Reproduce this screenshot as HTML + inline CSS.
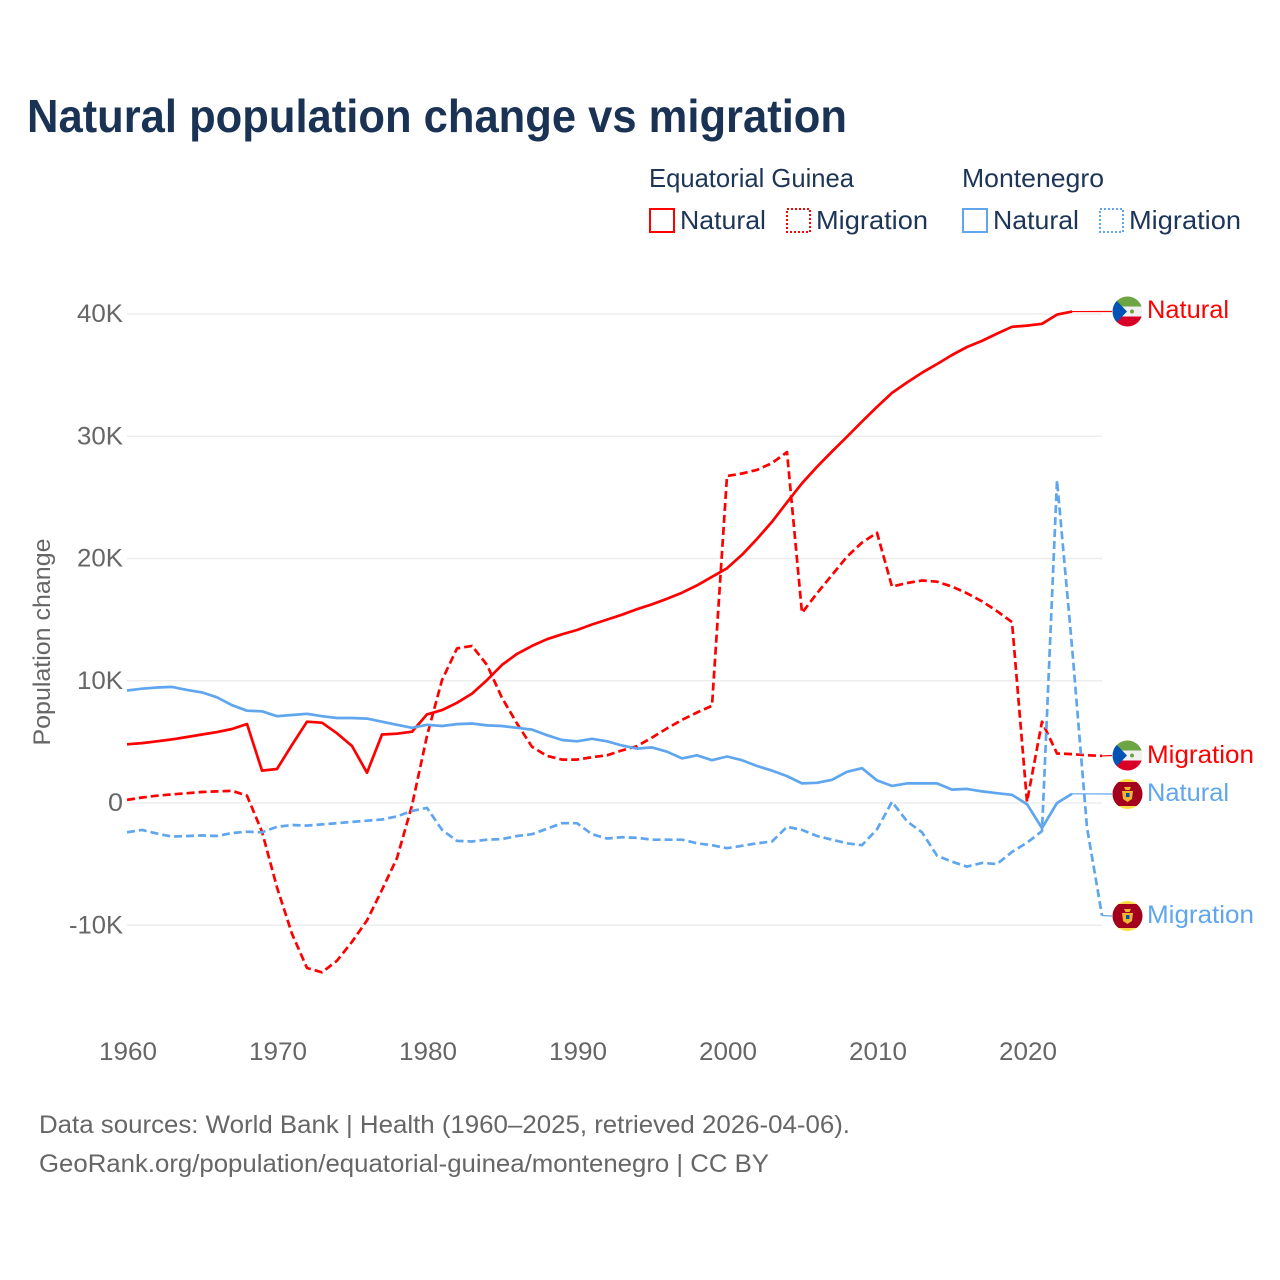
<!DOCTYPE html>
<html lang="en">
<head>
<meta charset="utf-8">
<title>Natural population change vs migration</title>
<style>
html,body{margin:0;padding:0;background:#fff;}
svg{display:block;font-family:"Liberation Sans",sans-serif;}
</style>
</head>
<body>
<svg id="chart" width="1280" height="1280" viewBox="0 0 1280 1280" xmlns="http://www.w3.org/2000/svg">
<defs>
<clipPath id="c1"><circle cx="1127.5" cy="311.5" r="15"/></clipPath>
<clipPath id="c2"><circle cx="1127.5" cy="755.5" r="15"/></clipPath>
<clipPath id="c3"><circle cx="1127.5" cy="794" r="15"/></clipPath>
<clipPath id="c4"><circle cx="1127.5" cy="916" r="15"/></clipPath>
</defs>
<rect width="1280" height="1280" fill="#fff"/>
<text x="27" y="132" font-size="46" font-weight="700" fill="#1a3354" textLength="820" lengthAdjust="spacingAndGlyphs">Natural population change vs migration</text>

<g font-size="26" fill="#1d3557">
<text x="649" y="187" textLength="205" lengthAdjust="spacingAndGlyphs">Equatorial Guinea</text>
<text x="962" y="187" textLength="142" lengthAdjust="spacingAndGlyphs">Montenegro</text>
<rect x="650" y="209" width="24" height="23" fill="none" stroke="#f00" stroke-width="2"/>
<text x="680" y="229" textLength="86" lengthAdjust="spacingAndGlyphs">Natural</text>
<rect x="787" y="209" width="23" height="23" fill="none" stroke="#f00" stroke-width="2" stroke-dasharray="2,2"/>
<text x="816" y="229" textLength="112" lengthAdjust="spacingAndGlyphs">Migration</text>
<rect x="963" y="209" width="24" height="23" fill="none" stroke="#5fa6ee" stroke-width="2"/>
<text x="993" y="229" textLength="86" lengthAdjust="spacingAndGlyphs">Natural</text>
<rect x="1100" y="209" width="23" height="23" fill="none" stroke="#5fa6ee" stroke-width="2" stroke-dasharray="2,2"/>
<text x="1129" y="229" textLength="112" lengthAdjust="spacingAndGlyphs">Migration</text>
</g>

<text transform="translate(50,642) rotate(-90)" text-anchor="middle" font-size="24" fill="#666" textLength="207" lengthAdjust="spacingAndGlyphs">Population change</text>

<g id="grid"></g>
<g id="yticks" font-size="25" fill="#666"></g>
<g id="xticks" font-size="25" fill="#666"></g>
<g id="series" fill="none"></g>

<g clip-path="url(#c1)">
<rect x="1112" y="296" width="31" height="10.5" fill="#6da544"/><rect x="1112" y="306.5" width="31" height="10" fill="#f0f0f0"/><rect x="1112" y="316.5" width="31" height="10.5" fill="#d80027"/>
<path d="M1112 296L1127 311.5L1112 327Z" fill="#0052b4"/><circle cx="1132" cy="311.5" r="2" fill="#6da544"/>
</g>
<g clip-path="url(#c2)">
<rect x="1112" y="740" width="31" height="10.5" fill="#6da544"/><rect x="1112" y="750.5" width="31" height="10" fill="#f0f0f0"/><rect x="1112" y="760.5" width="31" height="10.5" fill="#d80027"/>
<path d="M1112 740L1127 755.5L1112 771Z" fill="#0052b4"/><circle cx="1132" cy="755.5" r="2" fill="#6da544"/>
</g>
<g clip-path="url(#c3)">
<rect x="1112" y="778" width="31" height="32" fill="#ffda44"/><rect x="1112" y="782" width="31" height="24" fill="#a2001d"/>
<path d="M1124 787h7l-1.500 3h-4zM1122 791h11l-1 8-4.500 3-4.500-3z" fill="#eeb62f"/><rect x="1126" y="793" width="3.500" height="4" fill="#0052b4"/>
</g>
<g clip-path="url(#c4)">
<rect x="1112" y="900" width="31" height="32" fill="#ffda44"/><rect x="1112" y="904" width="31" height="24" fill="#a2001d"/>
<path d="M1124 909h7l-1.500 3h-4zM1122 913h11l-1 8-4.500 3-4.500-3z" fill="#eeb62f"/><rect x="1126" y="915" width="3.500" height="4" fill="#0052b4"/>
</g>

<g font-size="25">
<text x="1147" y="318" fill="#f00" textLength="82" lengthAdjust="spacingAndGlyphs">Natural</text>
<text x="1147" y="763" fill="#f00" textLength="107" lengthAdjust="spacingAndGlyphs">Migration</text>
<text x="1147" y="801" fill="#5fa6ee" textLength="82" lengthAdjust="spacingAndGlyphs">Natural</text>
<text x="1147" y="923" fill="#5fa6ee" textLength="107" lengthAdjust="spacingAndGlyphs">Migration</text>
</g>

<g font-size="25" fill="#666">
<text x="39" y="1133" textLength="811" lengthAdjust="spacingAndGlyphs">Data sources: World Bank | Health (1960–2025, retrieved 2026-04-06).</text>
<text x="39" y="1172" textLength="730" lengthAdjust="spacingAndGlyphs">GeoRank.org/population/equatorial-guinea/montenegro | CC BY</text>
</g>
</svg>
<script>
const startYear = 1960;
const xTickYears = [1960, 1970, 1980, 1990, 2000, 2010, 2020];
const yTickValues = [-10, 0, 10, 20, 30, 40];
const yTickLabels = ['-10K', '0', '10K', '20K', '30K', '40K'];

const egNatural = [4.8,4.9,5.05,5.2,5.4,5.6,5.8,6.05,6.46,2.65,2.78,4.75,6.65,6.57,5.7,4.66,2.48,5.6,5.67,5.83,7.25,7.6,8.2,8.95,10.05,11.3,12.2,12.85,13.4,13.8,14.15,14.6,15.0,15.4,15.85,16.25,16.7,17.2,17.8,18.5,19.2,20.3,21.6,23.0,24.6,26.15,27.5,28.75,29.96,31.2,32.4,33.55,34.4,35.2,35.9,36.65,37.3,37.8,38.4,38.95,39.05,39.2,39.95,40.2];
const egMigration = [0.25,0.45,0.6,0.7,0.8,0.9,0.95,1.0,0.6,-2.35,-6.9,-10.7,-13.5,-13.85,-12.9,-11.35,-9.6,-7.1,-4.5,-0.2,5.5,10.05,12.65,12.85,11.3,8.6,6.5,4.6,3.85,3.55,3.55,3.75,3.9,4.3,4.65,5.35,6.1,6.8,7.4,7.95,26.75,26.95,27.25,27.8,28.7,15.55,17.15,18.65,20.15,21.3,22.1,17.7,18.0,18.2,18.1,17.7,17.15,16.5,15.7,14.8,0.1,6.65,4.05,4.0,3.9,3.85];
const meNatural = [9.2,9.35,9.45,9.5,9.25,9.05,8.65,8.0,7.55,7.5,7.1,7.2,7.3,7.1,6.95,6.95,6.9,6.65,6.4,6.15,6.4,6.3,6.45,6.5,6.35,6.3,6.15,6.0,5.55,5.15,5.05,5.25,5.05,4.7,4.45,4.55,4.2,3.65,3.9,3.5,3.8,3.5,3.03,2.65,2.2,1.6,1.65,1.9,2.55,2.85,1.85,1.4,1.6,1.6,1.6,1.1,1.15,0.95,0.8,0.67,-0.1,-2.05,0,0.75];
const meMigration = [-2.4,-2.2,-2.5,-2.75,-2.7,-2.65,-2.7,-2.45,-2.35,-2.4,-1.95,-1.8,-1.85,-1.75,-1.65,-1.55,-1.45,-1.35,-1.1,-0.65,-0.4,-2.2,-3.1,-3.15,-3.0,-2.95,-2.7,-2.55,-2.1,-1.65,-1.65,-2.55,-2.9,-2.8,-2.85,-3.0,-3.0,-3.0,-3.3,-3.45,-3.7,-3.5,-3.3,-3.15,-1.95,-2.2,-2.7,-3.0,-3.3,-3.45,-2.15,0.1,-1.5,-2.4,-4.3,-4.8,-5.2,-4.9,-5.0,-4.0,-3.25,-2.3,26.4,12.8,-2.0,-9.2];

const SVGNS = 'http://www.w3.org/2000/svg';
function xScale(year) { return 127 + (year - 1960) * 15; }
function yScale(k) { return 803 - k * 12.225; }

const gridGroup = document.getElementById('grid');
const yGroup = document.getElementById('yticks');
const xGroup = document.getElementById('xticks');
const seriesGroup = document.getElementById('series');

yTickValues.forEach(function (v, i) {
  const line = document.createElementNS(SVGNS, 'line');
  
  
  line.setAttribute('x1', 127);
  line.setAttribute('x2', 1102);
  line.setAttribute('y1', yScale(v));
  line.setAttribute('y2', yScale(v));
  line.setAttribute('stroke', '#e9e9e9');
  line.setAttribute('stroke-width', '1.2');
  gridGroup.appendChild(line);

  const label = document.createElementNS(SVGNS, 'text');
  
  
  const text = yTickLabels[i];
  const width = text === '0' ? 15 : (text.length === 4 ? 54 : 46);
  label.setAttribute('x', 123 - width);
  label.setAttribute('y', yScale(v) + 8);
  label.setAttribute('textLength', width);
  label.setAttribute('lengthAdjust', 'spacingAndGlyphs');
  label.textContent = text;
  yGroup.appendChild(label);
});

xTickYears.forEach(function (yr) {
  const label = document.createElementNS(SVGNS, 'text');
  
  
  label.setAttribute('x', xScale(yr) - 28);
  label.setAttribute('y', 1060);
  label.setAttribute('textLength', 58);
  label.setAttribute('lengthAdjust', 'spacingAndGlyphs');
  label.textContent = String(yr);
  xGroup.appendChild(label);
});

function drawSeries(values, color, dashed, name, flagY) {
  const pts = values.map(function (v, i) {
    return xScale(startYear + i).toFixed(1) + ',' + yScale(v).toFixed(1);
  }).join(' ');
  const path = document.createElementNS(SVGNS, 'polyline');
  
  
  path.setAttribute('points', pts);
  path.setAttribute('stroke', color);
  path.setAttribute('stroke-width', '2.7');
  path.setAttribute('stroke-linejoin', 'round');
  if (dashed) path.setAttribute('stroke-dasharray', '8,4');
  seriesGroup.appendChild(path);

  const last = values.length - 1;
  const conn = document.createElementNS(SVGNS, 'line');
  
  
  conn.setAttribute('x1', xScale(startYear + last));
  conn.setAttribute('y1', yScale(values[last]));
  conn.setAttribute('x2', 1112);
  conn.setAttribute('y2', flagY);
  conn.setAttribute('stroke', color);
  conn.setAttribute('stroke-width', '1.2');
  seriesGroup.appendChild(conn);
}

drawSeries(egNatural, '#ff0000', false, 'line-eg-natural', 311.5);
drawSeries(egMigration, '#ff0000', true, 'line-eg-migration', 755.5);
drawSeries(meNatural, '#5fa6ee', false, 'line-me-natural', 794);
drawSeries(meMigration, '#5fa6ee', true, 'line-me-migration', 916);
</script>
</body>
</html>
